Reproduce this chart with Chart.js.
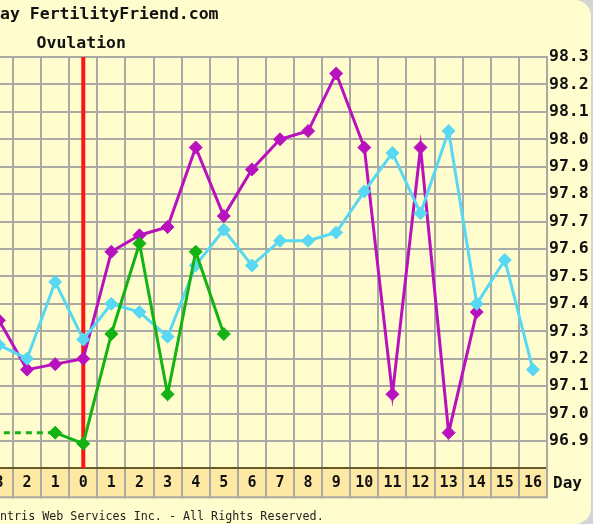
<!DOCTYPE html>
<html>
<head>
<meta charset="utf-8">
<script src="https://cdn.jsdelivr.net/npm/chart.js@4.4.1/dist/chart.umd.min.js"></script>
<style>
  html, body { margin: 0; padding: 0; background: #d4d4d4; }
  .card { position: relative; width: 591px; height: 524px; background: #fffccd; border-radius: 0 16px 16px 0; }
  canvas { position: absolute; left: 0; top: 0; }
</style>
</head>
<body>
<div class="card"><canvas id="chart" width="593" height="524"></canvas></div>
<script>
// days relative to ovulation, and how the band labels them
const days = [-3, -2, -1, 0, 1, 2, 3, 4, 5, 6, 7, 8, 9, 10, 11, 12, 13, 14, 15, 16];
const dayLabels = ["3", "2", "1", "0", "1", "2", "3", "4", "5", "6", "7", "8", "9", "10", "11", "12", "13", "14", "15", "16"];

// temperatures (F) per cycle
const cycleMagenta = [97.34, 97.16, 97.18, 97.20, 97.59, 97.65, 97.68, 97.97, 97.72, 97.89, 98.00, 98.03, 98.24, 97.97, 97.07, 97.97, 96.93, 97.37, null, null];
const cycleCyan = [97.25, 97.20, 97.48, 97.27, 97.40, 97.37, 97.28, 97.54, 97.67, 97.54, 97.63, 97.63, 97.66, 97.81, 97.95, 97.73, 98.03, 97.40, 97.56, 97.16];
const greenDays = [-4, -1, 0, 1, 2, 3, 4, 5];
const cycleGreen = [96.93, 96.93, 96.89, 97.29, 97.62, 97.07, 97.59, 97.29];

const tempTicks = [96.9, 97.0, 97.1, 97.2, 97.3, 97.4, 97.5, 97.6, 97.7, 97.8, 97.9, 98.0, 98.1, 98.2, 98.3];
const ovulationDay = 0;

function toPoints(xs, ys) {
    return xs.map((x, i) => ({ x, y: ys[i] })).filter(p => p.y != null);
}

const MONO = "'DejaVu Sans Mono', monospace";
const GRID = "#aaa9a3";

const decor = {
    id: "decor",
    beforeDraw(chart) {
        const { ctx, chartArea, scales: { x } } = chart;
        ctx.save();
        ctx.fillStyle = "#fde9a4";
        ctx.fillRect(0, x.top, chartArea.right, x.bottom - x.top);
        ctx.restore();
    },
    beforeDatasetsDraw(chart) {
        const { ctx, chartArea, scales: { x } } = chart;
        const px = x.getPixelForValue(ovulationDay);
        ctx.save();
        ctx.strokeStyle = "#ff1414";
        ctx.lineWidth = 4;
        ctx.beginPath();
        ctx.moveTo(px, chartArea.top);
        ctx.lineTo(px, chartArea.bottom);
        ctx.stroke();
        ctx.restore();
    },
    afterDraw(chart) {
        const { ctx, chartArea, scales: { x } } = chart;
        ctx.save();
        // bottom edge of the day band
        ctx.strokeStyle = GRID;
        ctx.lineWidth = 2;
        ctx.beginPath();
        ctx.moveTo(0, x.bottom - 1);
        ctx.lineTo(chartArea.right, x.bottom - 1);
        ctx.stroke();

        ctx.fillStyle = "#111";
        ctx.font = "bold 16.5px " + MONO;
        ctx.textBaseline = "middle";
        ctx.textAlign = "center";
        ctx.fillText("Ovulation", x.getPixelForValue(ovulationDay) - 2, chartArea.top - 13);
        ctx.textAlign = "left";
        ctx.font = "bold 16px " + MONO;
        ctx.fillText("Day", chartArea.right + 6, (x.top + x.bottom) / 2);
        ctx.restore();
    }
};

function isDay(v) {
    return days.includes(v);
}

new Chart(document.getElementById("chart"), {
    type: "line",
    data: {
        datasets: [
            {
                data: toPoints(greenDays, cycleGreen),
                borderColor: "#12b312",
                backgroundColor: "#12b312",
                segment: {
                    borderDash: ctx => (ctx.p1.parsed.x - ctx.p0.parsed.x > 1 ? [6, 5] : undefined)
                }
            },
            {
                data: toPoints(days, cycleCyan),
                borderColor: "#58d8f2",
                backgroundColor: "#58d8f2"
            },
            {
                data: toPoints(days, cycleMagenta),
                borderColor: "#b812be",
                backgroundColor: "#b812be"
            }
        ]
    },
    options: {
        responsive: false,
        animation: false,
        layout: { padding: 0, autoPadding: false },
        elements: {
            line: { borderWidth: 3, tension: 0 },
            point: { pointStyle: "rectRot", radius: 6.5, borderWidth: 1 }
        },
        plugins: {
            legend: { display: false },
            tooltip: { enabled: false },
            title: {
                display: true,
                text: "ay FertilityFriend.com",
                align: "start",
                color: "#111",
                font: { family: MONO, size: 16.5, weight: "bold" },
                padding: { top: 5, bottom: 32.2 }
            },
            subtitle: {
                display: true,
                position: "bottom",
                text: "ntris Web Services Inc. - All Rights Reserved.",
                align: "start",
                color: "#222",
                font: { family: MONO, size: 11.7 },
                padding: { top: 11.6, bottom: 0 }
            }
        },
        scales: {
            x: {
                type: "linear",
                min: -2.963,
                max: 16.5,
                afterBuildTicks: scale => {
                    const t = [];
                    days.forEach(d => { t.push({ value: d - 0.5 }); t.push({ value: d }); });
                    t.push({ value: days[days.length - 1] + 0.5 });
                    scale.ticks = t;
                },
                afterFit: scale => {
                    scale.height = 30;
                    scale.paddingLeft = 0;
                    scale.paddingRight = 0;
                },
                grid: {
                    color: ctx => (ctx.tick && isDay(ctx.tick.value) ? "rgba(0,0,0,0)" : GRID),
                    lineWidth: 2,
                    drawTicks: true,
                    tickLength: 30
                },
                border: { display: true, color: "#6b5a2c", width: 2 },
                ticks: {
                    autoSkip: false,
                    maxRotation: 0,
                    padding: -24,
                    color: "#111",
                    font: { family: MONO, size: 15, weight: "bold" },
                    callback: v => {
                        const i = days.indexOf(v);
                        return i >= 0 ? dayLabels[i] : "";
                    }
                }
            },
            y: {
                position: "right",
                min: 96.8,
                max: 98.3,
                afterBuildTicks: scale => { scale.ticks = tempTicks.map(v => ({ value: v })); },
                afterFit: scale => { scale.width = 46; },
                grid: { color: GRID, lineWidth: 2, drawTicks: false },
                border: { display: true, color: GRID, width: 2 },
                ticks: {
                    padding: 2,
                    color: "#111",
                    font: { family: MONO, size: 16.5, weight: "bold" },
                    callback: v => v.toFixed(1)
                }
            }
        }
    },
    plugins: [decor]
});
</script>
</body>
</html>
